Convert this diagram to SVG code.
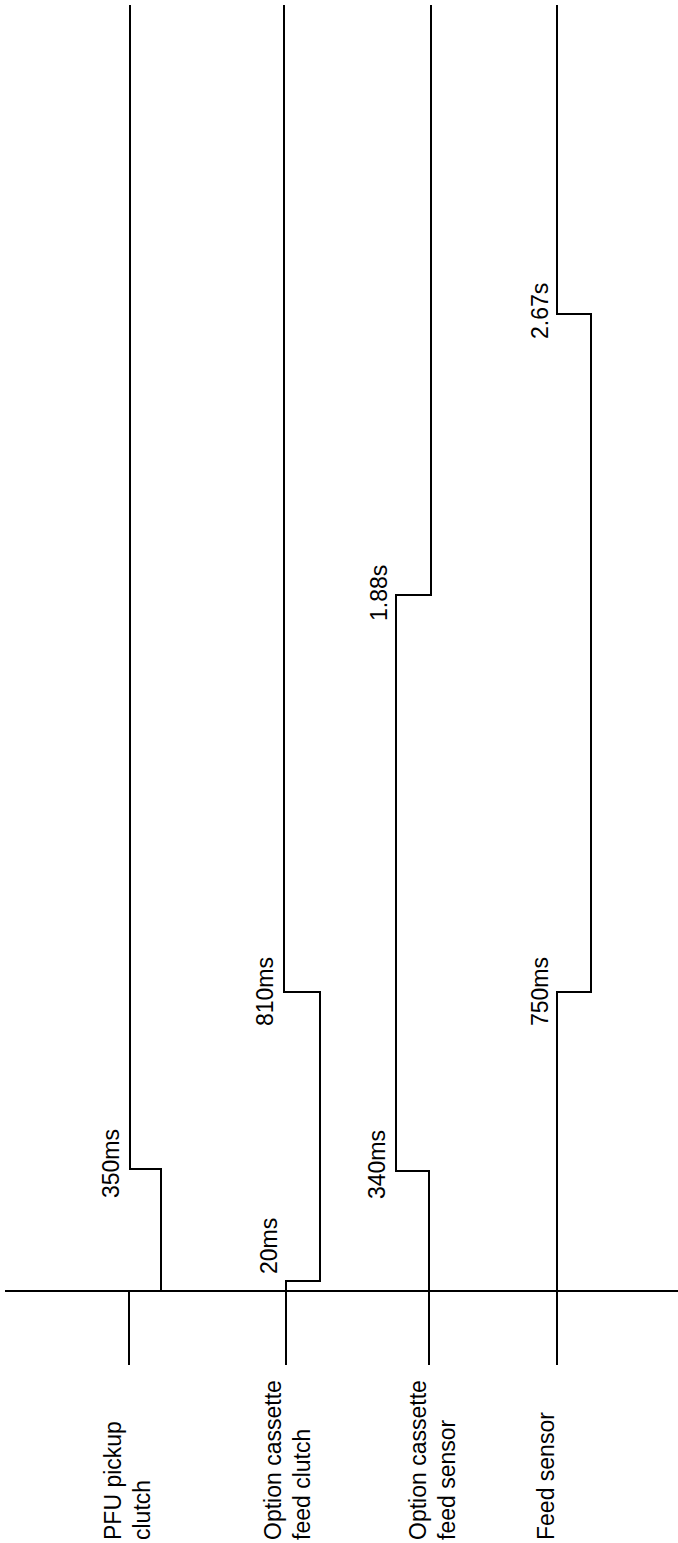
<svg xmlns="http://www.w3.org/2000/svg" width="678" height="1543" viewBox="0 0 678 1543">
<style>
.w{fill:none;stroke:#000;stroke-width:2;stroke-linejoin:miter;stroke-linecap:butt}
text{font-family:"Liberation Sans",Arial,sans-serif;font-size:23px;fill:#000}
</style>
<rect width="678" height="1543" fill="#fff"/>
<g id="connectors">
<path id="axis" class="w" d="M5,1291H678"/>
<path id="pfu-wave" class="w" d="M130,5V1169H161V1291"/>
<path id="pfu-stub" class="w" d="M129,1291V1365"/>
<path id="clutch-wave" class="w" d="M284,5V992H320V1281H286V1365"/>
<path id="sensor-wave" class="w" d="M431,5V595H396V1171H429V1365"/>
<path id="feed-wave" class="w" d="M557,5V314H591V992H557V1365"/>
</g>
<g id="timing-labels">
<text transform="translate(119,1198) rotate(-90)">350ms</text>
<text transform="translate(277,1274) rotate(-90)">20ms</text>
<text transform="translate(273,1026) rotate(-90)">810ms</text>
<text transform="translate(385,1199) rotate(-90)">340ms</text>
<text transform="translate(387,621) rotate(-90)">1.88s</text>
<text transform="translate(548,1026) rotate(-90)">750ms</text>
<text transform="translate(548,339) rotate(-90)">2.67s</text>
</g>
<g id="node-pfu">
<text transform="translate(121,1540) rotate(-90)"><tspan x="0" y="0">PFU pickup</tspan><tspan x="0" y="29">clutch</tspan></text>
</g>
<g id="node-clutch">
<text transform="translate(281,1540) rotate(-90)"><tspan x="0" y="0">Option cassette</tspan><tspan x="0" y="29">feed clutch</tspan></text>
</g>
<g id="node-sensor">
<text transform="translate(426,1540) rotate(-90)"><tspan x="0" y="0">Option cassette</tspan><tspan x="0" y="29">feed sensor</tspan></text>
</g>
<g id="node-feed">
<text transform="translate(554,1540) rotate(-90)">Feed sensor</text>
</g>
</svg>
